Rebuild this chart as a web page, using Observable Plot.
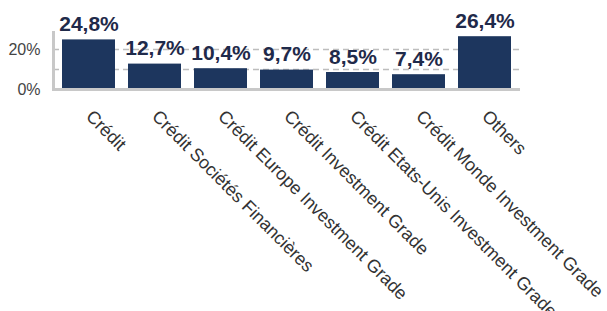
<!DOCTYPE html>
<html>
<head>
<meta charset="utf-8">
<script src="https://cdn.jsdelivr.net/npm/d3@7"></script>
<script src="https://cdn.jsdelivr.net/npm/@observablehq/plot@0.6"></script>
<style>
  html, body { margin: 0; padding: 0; background: #fff; }
  #chart { width: 607px; height: 311px; overflow: hidden; }
</style>
</head>
<body>
<div id="chart"></div>
<script>
const categories = [
  "Crédit",
  "Crédit Sociétés Financières",
  "Crédit Europe Investment Grade",
  "Crédit Investment Grade",
  "Crédit Etats-Unis Investment Grade",
  "Crédit Monde Investment Grade",
  "Others"
];
const values = [24.8, 12.7, 10.4, 9.7, 8.5, 7.4, 26.4];
const yTicks = [0, 20];
const gridValues = [10, 20];

const data = categories.map((c, i) => ({cat: c, value: values[i]}));
const fmt = v => v.toFixed(1).replace(".", ",") + "%";

const plot = Plot.plot({
  width: 607,
  height: 311,
  marginTop: 32,
  marginLeft: 53,
  marginRight: 87,
  marginBottom: 222,
  style: {fontFamily: "'Liberation Sans', Arial, sans-serif", fontSize: "16px", background: "#fff"},
  x: {domain: categories, paddingInner: 0.19, paddingOuter: 0.095},
  y: {domain: [0, 28.5]},
  marks: [
    Plot.ruleY(gridValues, {stroke: "#bdbdbd", strokeWidth: 1.5, strokeDasharray: "6,4"}),
    Plot.barY(data, {x: "cat", y: "value", fill: "#1d365e"}),
    Plot.ruleY([0], {stroke: "#c8c8c8", strokeWidth: 3}),
    Plot.frame({anchor: "left", stroke: "#c8c8c8", strokeWidth: 3}),
    Plot.axisY({ticks: yTicks, tickFormat: d => d + "%", tickSize: 0, tickPadding: 13, label: null, fontSize: 16, color: "#444"}),
    Plot.axisX({tickRotate: 45, tickSize: 0, tickPadding: 24, label: null, fontSize: 18, color: "#333"}),
    Plot.text(data, {x: "cat", y: "value", text: d => fmt(d.value), lineAnchor: "bottom", dy: -9, fontSize: 21, fontWeight: "bold", fill: "#1f2a4a"})
  ]
});
document.getElementById("chart").appendChild(plot);
</script>
</body>
</html>
